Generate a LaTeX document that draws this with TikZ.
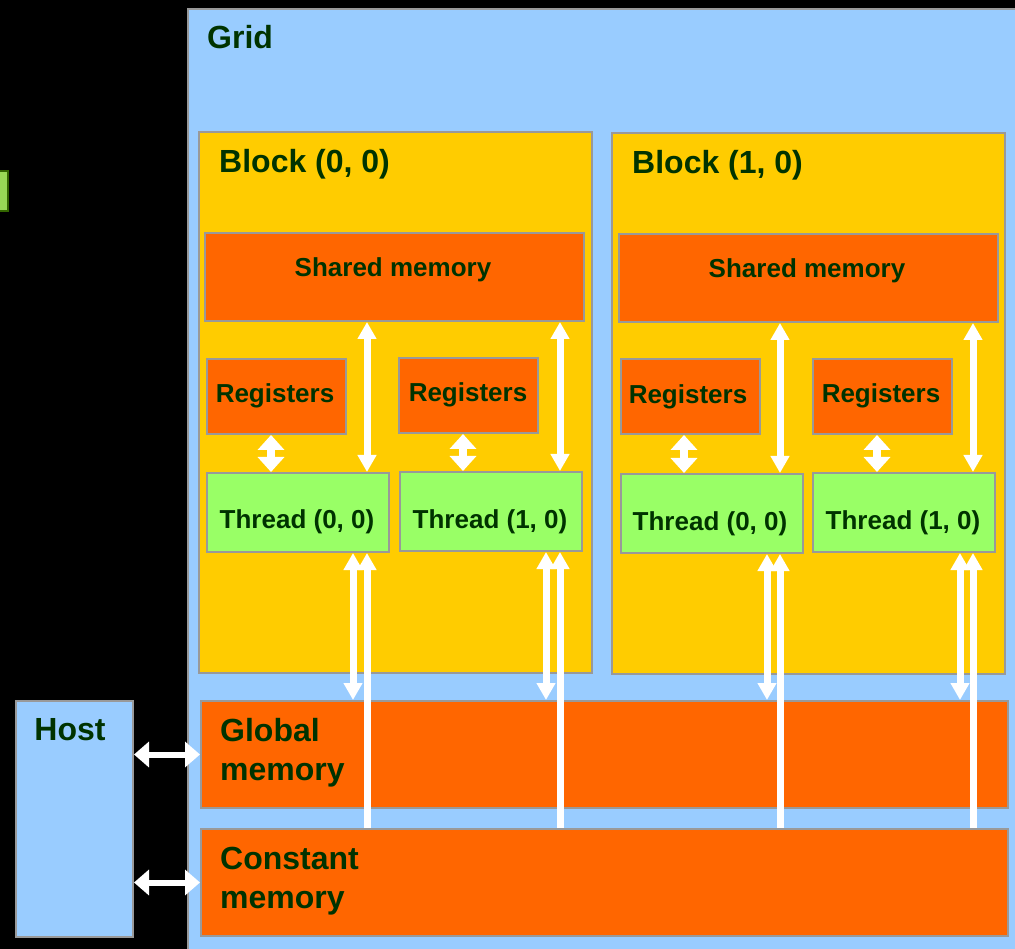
\documentclass[tikz,border=0pt]{standalone}
\usepackage{fontspec}
\setmainfont{Liberation Sans}
\usetikzlibrary{arrows.meta}

\definecolor{gridblue}{HTML}{99CCFF}
\definecolor{blockyellow}{HTML}{FFCC00}
\definecolor{memorange}{HTML}{FF6600}
\definecolor{threadgreen}{HTML}{99FF66}
\definecolor{textgreen}{HTML}{003300}
\definecolor{edgegrey}{HTML}{999999}
\definecolor{sidegreen}{HTML}{99D955}
\definecolor{sideedge}{HTML}{336600}

\tikzset{
    box/.style={draw=edgegrey, line width=2pt, anchor=north west, inner sep=0pt},
    gridbox/.style={box, fill=gridblue},
    blockbox/.style={box, fill=blockyellow, minimum width=393pt, minimum height=541pt},
    membox/.style={box, fill=memorange},
    regbox/.style={box, fill=memorange, minimum width=139pt, minimum height=75pt},
    threadbox/.style={box, fill=threadgreen, minimum width=182pt, minimum height=79pt},
    bigtext/.style={text=textgreen, font=\fontsize{32}{39}\selectfont\bfseries, inner sep=0pt},
    smalltext/.style={text=textgreen, font=\fontsize{26}{31}\selectfont\bfseries, inner sep=0pt, anchor=base},
    linkarrow/.style={draw=white, line width=7pt, arrows={Triangle[width=18pt,length=17pt]-Triangle[width=18pt,length=17pt]}},
    uparrow/.style={draw=white, line width=7pt, arrows={-Triangle[width=18pt,length=17pt]}},
    regarrow/.style={draw=white, line width=8pt, arrows={Triangle[width=26pt,length=15pt]-Triangle[width=26pt,length=15pt]}},
    hostarrow/.style={draw=white, line width=6pt, arrows={Triangle[width=25pt,length=15pt]-Triangle[width=25pt,length=15pt]}}
}

\begin{document}
\begin{tikzpicture}[x=1pt, y=-1pt]
    \fill[black] (0,0) rectangle (1015,949);
    \useasboundingbox (0,0) rectangle (1015,949);

    \node[box, fill=sidegreen, draw=sideedge, minimum width=12pt, minimum height=40pt] (side) at (-5,170) {};

    % grid
    \node[gridbox, minimum width=835pt, minimum height=948pt] (grid) at (187,8) {};
    \node[bigtext, anchor=base west] (gridtext) at (207,49) {Grid};

    % block (0, 0)
    \node[blockbox] (b0) at (198,131) {};
    \node[bigtext, anchor=base west] (b0text) at (219,173) {Block (0, 0)};
    \node[membox, minimum width=379pt, minimum height=88pt] (sm0) at (204,232) {};
    \node[smalltext] (sm0text) at (393,277) {Shared memory};
    \node[regbox] (r00) at (206,358) {};
    \node[smalltext] (r00text) at (275,403) {Registers};
    \node[regbox] (r10) at (398,357) {};
    \node[smalltext] (r10text) at (468,402) {Registers};
    \node[threadbox] (t00) at (206,472) {};
    \node[smalltext] (t00text) at (297,528) {Thread (0, 0)};
    \node[threadbox] (t10) at (399,471) {};
    \node[smalltext] (t10text) at (490,528) {Thread (1, 0)};

    % block (1, 0)
    \node[blockbox] (b1) at (611,132) {};
    \node[bigtext, anchor=base west] (b1text) at (632,174) {Block (1, 0)};
    \node[membox, minimum width=379pt, minimum height=88pt] (sm1) at (618,233) {};
    \node[smalltext] (sm1text) at (807,278) {Shared memory};
    \node[regbox] (r01) at (620,358) {};
    \node[smalltext] (r01text) at (688,404) {Registers};
    \node[regbox] (r11) at (812,358) {};
    \node[smalltext] (r11text) at (881,403) {Registers};
    \node[threadbox] (t01) at (620,473) {};
    \node[smalltext] (t01text) at (710,530) {Thread (0, 0)};
    \node[threadbox] (t11) at (812,472) {};
    \node[smalltext] (t11text) at (903,529) {Thread (1, 0)};

    % global and constant memory
    \node[membox, minimum width=807pt, minimum height=107pt] (gm) at (200,700) {};
    \node[bigtext, anchor=west, align=left] (gmtext) at (220,753) {Global\\memory};
    \node[membox, minimum width=807pt, minimum height=107pt] (cm) at (200,828) {};
    \node[bigtext, anchor=west, align=left] (cmtext) at (220,881) {Constant\\memory};

    % host
    \node[gridbox, minimum width=117pt, minimum height=236pt] (host) at (15,700) {};
    \node[bigtext, anchor=base] (hosttext) at (70,740) {Host};

    % registers <-> threads
    \draw[regarrow] (271,0 |- r00.south) -- (271,0 |- t00.north);
    \draw[regarrow] (463,0 |- r10.south) -- (463,0 |- t10.north);
    \draw[regarrow] (684,0 |- r01.south) -- (684,0 |- t01.north);
    \draw[regarrow] (877,0 |- r11.south) -- (877,0 |- t11.north);

    % shared memory <-> threads
    \draw[linkarrow] (367,0 |- sm0.south) -- (367,0 |- t00.north);
    \draw[linkarrow] (560,0 |- sm0.south) -- (560,0 |- t10.north);
    \draw[linkarrow] (780,0 |- sm1.south) -- (780,0 |- t01.north);
    \draw[linkarrow] (973,0 |- sm1.south) -- (973,0 |- t11.north);

    % threads <-> global memory
    \draw[linkarrow] (353,0 |- t00.south) -- (353,0 |- gm.north);
    \draw[linkarrow] (546,0 |- t10.south) -- (546,0 |- gm.north);
    \draw[linkarrow] (767,0 |- t01.south) -- (767,0 |- gm.north);
    \draw[linkarrow] (960,0 |- t11.south) -- (960,0 |- gm.north);

    % constant memory -> threads
    \draw[uparrow] (367,0 |- cm.north) -- (367,0 |- t00.south);
    \draw[uparrow] (560,0 |- cm.north) -- (560,0 |- t10.south);
    \draw[uparrow] (780,0 |- cm.north) -- (780,0 |- t01.south);
    \draw[uparrow] (973,0 |- cm.north) -- (973,0 |- t11.south);

    % host <-> memories
    \draw[hostarrow] (host.east |- gm.west) -- (gm.west);
    \draw[hostarrow] (host.east |- cm.west) -- (cm.west);
\end{tikzpicture}
\end{document}
